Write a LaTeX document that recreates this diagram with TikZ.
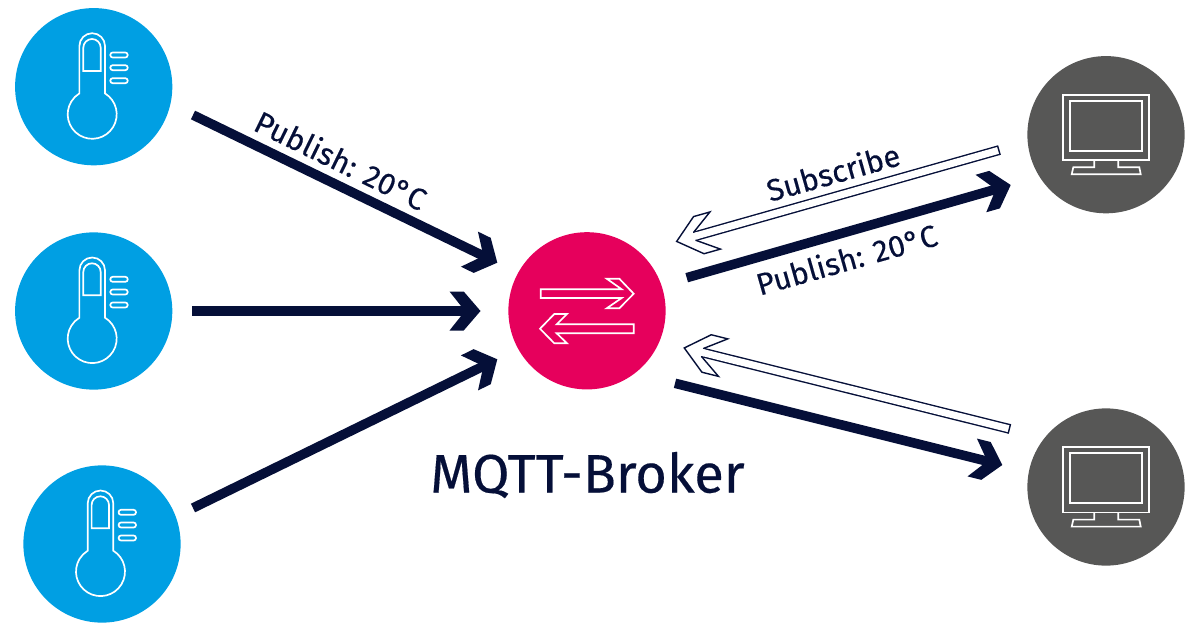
\documentclass[tikz,border=0pt]{standalone}
\usepackage{fontspec}
\setmainfont{Fira Sans}[FakeBold=0.3]
\usepackage{xcolor}
\usepackage{tikz}
\usetikzlibrary{arrows.meta,positioning}

\definecolor{navyink}{HTML}{050F38}
\definecolor{sensorblue}{HTML}{009FE3}
\definecolor{brokerpink}{HTML}{E6005C}
\definecolor{clientgrey}{HTML}{575756}

\newdimen\px
\px=0.025cm

% Thick open chevron
\pgfdeclarearrow{
  name=Chevron,
  setup code={
    \pgfarrowssettipend{0pt}
    \pgfarrowssetbackend{-31\px}
    \pgfarrowssetlineend{-15\px}
    \pgfarrowssetvisualbackend{-15\px}
  },
  drawing code={
    \pgfsetfillcolor{navyink}
    \pgfpathmoveto{\pgfqpoint{0pt}{0pt}}
    \pgfpathlineto{\pgfqpoint{-16.8\px}{19.5\px}}
    \pgfpathlineto{\pgfqpoint{-31\px}{19.5\px}}
    \pgfpathlineto{\pgfqpoint{-15.5\px}{0pt}}
    \pgfpathlineto{\pgfqpoint{-31\px}{-19.5\px}}
    \pgfpathlineto{\pgfqpoint{-16.8\px}{-19.5\px}}
    \pgfpathclose
    \pgfusepathqfill
  }
}

% Outlined chevron, open towards the double shaft
\pgfdeclarearrow{
  name=HollowChevron,
  setup code={
    \pgfarrowssettipend{0pt}
    \pgfarrowssetbackend{-41\px}
    \pgfarrowssetlineend{-20\px}
    \pgfarrowssetvisualbackend{-20\px}
  },
  drawing code={
    \pgfsetlinewidth{1pt}
    \pgfsetmiterjoin
    \pgfsetstrokecolor{navyink}
    \pgfsetfillcolor{white}
    \pgfpathmoveto{\pgfqpoint{-1\px}{0pt}}
    \pgfpathlineto{\pgfqpoint{-24\px}{19.3\px}}
    \pgfpathlineto{\pgfqpoint{-41\px}{19.3\px}}
    \pgfpathlineto{\pgfqpoint{-20\px}{4.3\px}}
    \pgfpathlineto{\pgfqpoint{-20\px}{-4.3\px}}
    \pgfpathlineto{\pgfqpoint{-41\px}{-19.3\px}}
    \pgfpathlineto{\pgfqpoint{-24\px}{-19.3\px}}
    \pgfpathclose
    \pgfusepathqfillstroke
    \pgfpathrectanglecorners{\pgfqpoint{-22\px}{-3.5\px}}{\pgfqpoint{-18\px}{3.5\px}}
    \pgfusepathqfill
  }
}

\begin{document}
\begin{tikzpicture}[
  x=0.025cm,y=-0.025cm,
  disc/.style={circle,draw=none,minimum size=3.93cm,inner sep=0pt},
  sensor/.style={disc,fill=sensorblue},
  client/.style={disc,fill=clientgrey},
  broker/.style={disc,fill=brokerpink},
  icon/.style={draw=white,line width=1.2pt},
  publish/.style={draw=navyink,line width=6.8pt,-{Chevron}},
  subscribe/.style={draw=navyink,line width=1pt,double=white,double distance=5pt,
    {Bar[width=7pt,line width=1pt]}-{HollowChevron}},
  label/.style={text=navyink,font=\fontsize{21.8}{26}\selectfont,inner sep=0pt},
  thermo/.pic={
    \draw[icon] (-14.3,-40.7) arc (180:360:12.8) -- (11.3,6.7) arc (-58.5:238.5:24.5) -- cycle;
    \draw[icon] (-10.4,-15.7) -- (-10.4,-39) arc (180:360:8.7) -- (7,-15.7) -- cycle;
    \foreach \bary in {-31.7,-19,-6}
      \draw[icon,rounded corners=1.7pt] (16.6,\bary-2.5) rectangle (34,\bary+2.5);
  },
  monitor/.pic={
    \draw[icon] (-42.7,-40) rectangle (43.3,25.6);
    \draw[icon] (-36,-33.7) rectangle (36.3,16.3);
    \draw[icon] (-11.7,25.6) -- (-11.7,32.6) -- (-32.7,32.6) -- (-34.3,39.6)
      -- (34.7,39.6) -- (33.3,32.6) -- (12.3,32.6) -- (12.3,25.6);
  },
  exchange/.pic={
    \draw[icon,miter limit=10] (-46.3,-21.5) -- (34.7,-21.5) -- (19.7,-32.1) -- (32.3,-32.1)
      -- (46.7,-17.1) -- (32.3,-2.5) -- (19.7,-2.5) -- (34.7,-12.8) -- (-46.3,-12.8) -- cycle;
    \draw[icon,miter limit=10] (46.7,13.5) -- (-30.3,13.5) -- (-20,3.2) -- (-32.7,3.2)
      -- (-47,17.9) -- (-32.7,32.5) -- (-20,32.5) -- (-30.3,22.5) -- (46.7,22.5) -- cycle;
  }
]
\useasboundingbox (0,0) rectangle (1200,631);

% Sensors
\node[sensor] (sensorA) at (93.7,86.7) {};
\node[sensor] (sensorB) at (93.7,311) {};
\node[sensor] (sensorC) at (102,544) {};
\pic at (sensorA) {thermo};
\pic at (sensorB) {thermo};
\pic at (sensorC) {thermo};

% Broker
\node[broker] (broker) at (587,310.8) {};
\pic at (broker) {exchange};
\node[label,font=\fontsize{38.6}{42}\selectfont] (brokername) at (587.5,475) {MQTT-Broker};

% Clients
\node[client] (clientA) at (1106,134.7) {};
\node[client] (clientB) at (1106,487) {};
\pic at (clientA) {monitor};
\pic at (clientB) {monitor};

% Free ends of the connectors
\coordinate (outA) at (193,115);
\coordinate (outB) at (192,311);
\coordinate (outC) at (193,508);
\coordinate (inA) at (497.3,262.7);
\coordinate (inB) at (480.5,311);
\coordinate (inC) at (497.3,359.3);
\coordinate (pubA) at (686.7,277.7);
\coordinate (pubAend) at (1010.7,185);
\coordinate (pubB) at (675,383.3);
\coordinate (pubBend) at (1002.3,465);
\coordinate (subA) at (999.5,150);
\coordinate (subAend) at (675.7,241.7);
\coordinate (subB) at (1010,429);
\coordinate (subBend) at (683.3,347.7);

% Publish
\draw[publish] (outA) -- (inA);
\draw[publish] (outB) -- (inB);
\draw[publish] (outC) -- (inC);
\draw[publish] (pubA) -- (pubAend);
\draw[publish] (pubB) -- (pubBend);

% Subscribe
\draw[subscribe] (subA) -- (subAend);
\draw[subscribe] (subB) -- (subBend);

% Labels
\node[label,rotate=-26] (pubAlabel) at (341,160) {Publish: 20°C};
\node[label,rotate=15.8] (pubBlabel) at (846.5,259) {Publish: 20°C};
\node[label,rotate=15.8] (sublabel) at (833,172) {Subscribe};
\end{tikzpicture}
\end{document}
